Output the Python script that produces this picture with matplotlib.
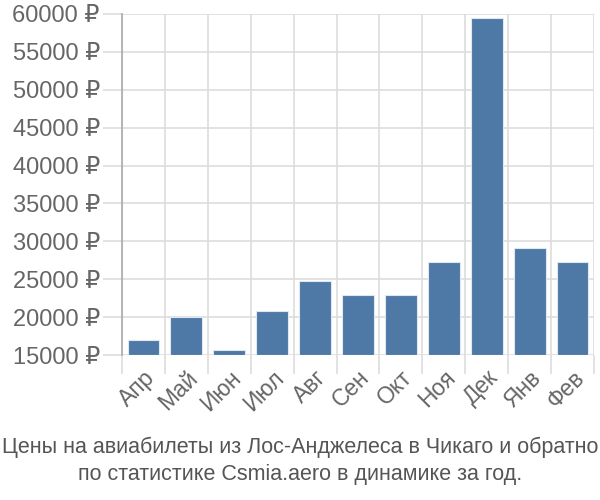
import numpy as np
import matplotlib.pyplot as plt
import matplotlib.transforms as mtransforms

plt.rcParams['font.family'] = ['Liberation Sans', 'DejaVu Sans']

months = ["Апр", "Май", "Июн", "Июл", "Авг", "Сен", "Окт", "Ноя", "Дек", "Янв", "Фев"]
prices = [17000, 19950, 15650, 20750, 24750, 22950, 22950, 27300, 59450, 29150, 27300]
yticks = [15000, 20000, 25000, 30000, 35000, 40000, 45000, 50000, 55000, 60000]
title = "Цены на авиабилеты из Лос-Анджелеса в Чикаго и обратно\nпо статистике Csmia.aero в динамике за год."

fig = plt.figure(figsize=(6, 5), dpi=100)
ax = fig.add_axes([0.2033, 0.29, 0.7867, 0.682])

x = np.arange(len(months))
base = yticks[0]
ax.bar(x, [p - base for p in prices], bottom=base, width=0.74,
       color='#4e79a7', edgecolor='#dfe8f1', linewidth=0.8, zorder=3)

ax.set_xlim(-0.5, len(months) - 0.5)
ax.set_ylim(base, 60000)

ax.set_yticks(yticks)
ax.set_yticklabels([f"{v} ₽" for v in yticks], fontsize=17, color='#666666')
ax.set_xticks(np.arange(-0.5, len(months)), minor=False)
ax.set_xticklabels([])
ax.set_xticks(x, minor=True)
ax.set_xticklabels(months, minor=True, rotation=45, ha='right', va='top',
                   rotation_mode='anchor', fontsize=16.5, color='#666666')

# nudge month labels a bit to the left
shift = mtransforms.ScaledTranslation(-0.06, 0.02, fig.dpi_scale_trans)
for lbl in ax.get_xticklabels(minor=True):
    lbl.set_transform(lbl.get_transform() + shift)

ax.tick_params(axis='y', length=14, color='#dddddd', width=1.2, pad=2)
ax.tick_params(axis='x', which='major', length=14, color='#dddddd', width=1.2)
ax.tick_params(axis='x', which='minor', length=0, pad=8)

ax.grid(True, which='major', color='#dddddd', linewidth=1.2, zorder=0)
for s in ['top', 'right', 'bottom']:
    ax.spines[s].set_visible(False)
ax.spines['left'].set_color('#aaaaaa')
ax.spines['left'].set_linewidth(1.2)
ax.spines['left'].set_bounds(base, 60000)

fig.text(0.5, 0.03, title, ha='center', va='bottom', fontsize=15.5,
         color='#555555', linespacing=1.4)

fig.savefig('out.png', dpi=100)
